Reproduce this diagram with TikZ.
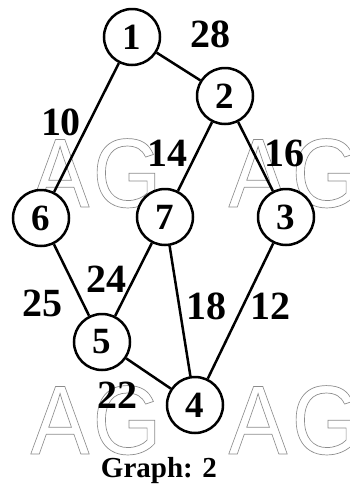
\documentclass[tikz,border=0pt]{standalone}
\usepackage{fontspec}
\setmainfont{Liberation Serif}
\newfontfamily\wmfont{Liberation Sans}
\newcommand\wmtext[1]{\special{pdf:literal direct 1 Tr 0.7 w}#1\special{pdf:literal direct 0 Tr}}
\begin{document}
\begin{tikzpicture}[x=1pt,y=-1pt,
  vtx/.style={circle,draw=black,fill=white,line width=2.5pt,minimum size=56pt,inner sep=0pt,font=\fontsize{37}{37}\selectfont\bfseries},
  edge/.style={line width=2.5pt},
  wlab/.style={anchor=base,inner sep=0pt,font=\fontsize{40}{40}\selectfont\bfseries},
  wm/.style={anchor=base,inner sep=0pt,text=black!45,font=\fontsize{98}{98}\selectfont\wmfont,xscale=0.9}]
\useasboundingbox (0,0) rectangle (350,485);
% watermark
\node[wm] (wa1) at (60,207) {\wmtext{A}};
\node[wm] (wg1) at (127,207) {\wmtext{G}};
\node[wm] (wa2) at (258,207) {\wmtext{A}};
\node[wm] (wg2) at (326,207) {\wmtext{G}};
\node[wm] (wa3) at (60,454) {\wmtext{A}};
\node[wm] (wg3) at (127,454) {\wmtext{G}};
\node[wm] (wa4) at (258,454) {\wmtext{A}};
\node[wm] (wg4) at (326,454) {\wmtext{G}};
% vertices
\node[vtx] (v1) at (132,37) {1};
\node[vtx] (v2) at (225,96) {2};
\node[vtx] (v6) at (41,218) {6};
\node[vtx] (v7) at (165,217) {7};
\node[vtx] (v3) at (286,217) {3};
\node[vtx] (v5) at (102,342) {5};
\node[vtx] (v4) at (195,405) {4};
% edges
\draw[edge] (v1) -- (v2);
\draw[edge] (v1) -- (v6);
\draw[edge] (v2) -- (v7);
\draw[edge] (v2) -- (v3);
\draw[edge] (v6) -- (v5);
\draw[edge] (v7) -- (v5);
\draw[edge] (v7) -- (v4);
\draw[edge] (v3) -- (v4);
\draw[edge] (v5) -- (v4);
% weights
\node[wlab] (w12) at (210,47) {28};
\node[wlab] (w16) at (61,135) {10};
\node[wlab] (w27) at (167,166) {14};
\node[wlab] (w23) at (284,166) {16};
\node[wlab] (w75) at (106,292) {24};
\node[wlab] (w65) at (42,316) {25};
\node[wlab] (w74) at (206,319) {18};
\node[wlab] (w34) at (270,319) {12};
\node[wlab] (w54) at (117,408) {22};
% caption
\node[anchor=base,inner sep=0pt,font=\fontsize{29}{29}\selectfont\bfseries] (cap) at (159,477) {Graph: 2};
\end{tikzpicture}
\end{document}
